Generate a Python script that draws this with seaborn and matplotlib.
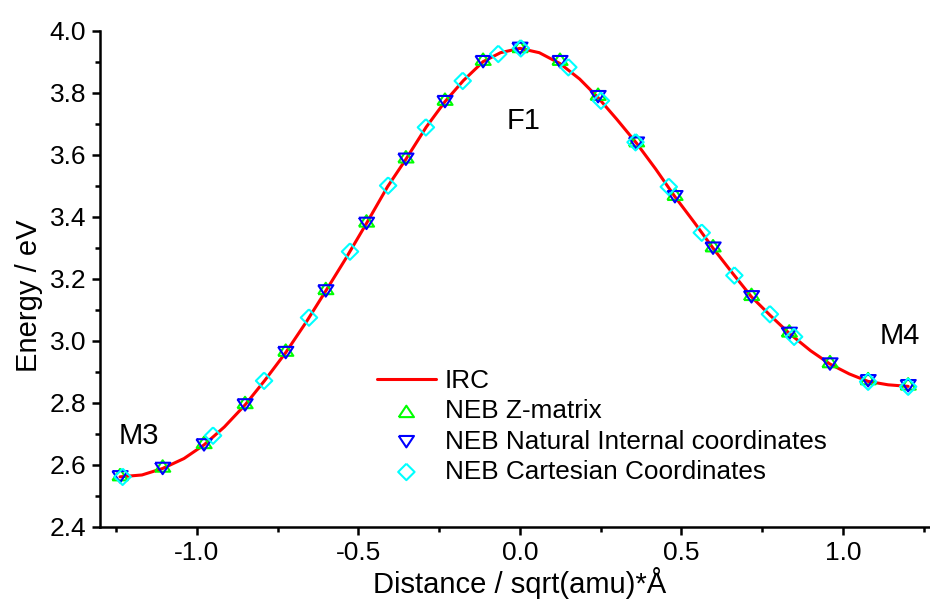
import matplotlib
matplotlib.use("Agg")
import matplotlib.pyplot as plt
import seaborn as sns
import numpy as np

# IRC curve
irc_x = [-1.238, -1.17, -1.106, -1.04, -0.978, -0.915, -0.851, -0.79, -0.725, -0.66,
         -0.601, -0.54, -0.475, -0.41, -0.353, -0.29, -0.232, -0.175, -0.114, -0.06,
         0.0, 0.06, 0.124, 0.185, 0.242, 0.30, 0.361, 0.42, 0.480, 0.54,
         0.598, 0.66, 0.717, 0.775, 0.834, 0.90, 0.960, 1.02, 1.078, 1.14, 1.202]
irc_y = [2.561, 2.567, 2.588, 2.620, 2.664, 2.722, 2.793, 2.872, 2.962, 3.063,
         3.161, 3.264, 3.379, 3.497, 3.586, 3.690, 3.772, 3.840, 3.901, 3.930,
         3.944, 3.930, 3.895, 3.845, 3.785, 3.715, 3.638, 3.555, 3.465, 3.382,
         3.299, 3.216, 3.142, 3.082, 3.024, 2.968, 2.925, 2.893, 2.869, 2.858, 2.853]

# NEB Z-matrix
zmat_x = [-1.238, -1.106, -0.978, -0.851, -0.725, -0.601, -0.475, -0.353, -0.232, -0.114,
          0.0, 0.124, 0.242, 0.361, 0.480, 0.598, 0.717, 0.834, 0.960, 1.078, 1.202]
zmat_y = [2.568, 2.596, 2.672, 2.801, 2.970, 3.169, 3.387, 3.594, 3.780, 3.909,
          3.950, 3.909, 3.796, 3.646, 3.473, 3.307, 3.150, 3.032, 2.933, 2.878, 2.861]

# NEB Natural Internal coordinates
nic_x = [-1.238, -1.106, -0.978, -0.851, -0.725, -0.601, -0.475, -0.353, -0.232, -0.114,
         0.0, 0.124, 0.242, 0.361, 0.480, 0.598, 0.717, 0.834, 0.960, 1.078, 1.202]
nic_y = [2.561, 2.588, 2.664, 2.793, 2.962, 3.161, 3.379, 3.586, 3.772, 3.901,
         3.944, 3.901, 3.788, 3.638, 3.465, 3.299, 3.142, 3.024, 2.925, 2.871, 2.855]

# NEB Cartesian Coordinates
cart_x = [-1.230, -0.950, -0.792, -0.653, -0.526, -0.408, -0.291, -0.177, -0.067, 0.003,
          0.150, 0.251, 0.358, 0.461, 0.563, 0.664, 0.774, 0.849, 1.078, 1.202]
cart_y = [2.561, 2.694, 2.871, 3.075, 3.288, 3.501, 3.689, 3.839, 3.926, 3.944,
          3.883, 3.775, 3.641, 3.497, 3.349, 3.211, 3.086, 3.013, 2.868, 2.852]

labels = ["IRC", "NEB Z-matrix", "NEB Natural Internal coordinates", "NEB Cartesian Coordinates"]
x_ticks = [-1.0, -0.5, 0.0, 0.5, 1.0]
y_ticks = [2.4, 2.6, 2.8, 3.0, 3.2, 3.4, 3.6, 3.8, 4.0]

sns.set_style("ticks")
plt.rcParams["font.family"] = ["Liberation Sans", "DejaVu Sans"]
plt.rcParams.update({"text.color": "black", "axes.labelcolor": "black",
                     "xtick.color": "black", "ytick.color": "black"})

fig = plt.figure(figsize=(9.3, 5.99), dpi=100)
ax = fig.add_axes([100 / 930, 72.3 / 599, 839.8 / 930, 495.7 / 599])

sns.lineplot(x=irc_x, y=irc_y, ax=ax, color="#ff0000", linewidth=2.2,
             label=labels[0], sort=False, zorder=2)

tri_up = [(-1, -0.75), (1, -0.75), (0, 0.75), (-1, -0.75)]
tri_dn = [(-1, 0.75), (1, 0.75), (0, -0.75), (-1, 0.75)]
diamond = [(0, 1), (1, 0), (0, -1), (-1, 0), (0, 1)]

sns.scatterplot(x=zmat_x, y=zmat_y, ax=ax, marker=tri_up, s=120,
                facecolors="none", edgecolors="#00ff00", linewidths=1.5,
                label=labels[1], zorder=3)
sns.scatterplot(x=nic_x, y=nic_y, ax=ax, marker=tri_dn, s=120,
                facecolors="none", edgecolors="#0000ff", linewidths=1.5,
                label=labels[2], zorder=4)
sns.scatterplot(x=cart_x, y=cart_y, ax=ax, marker=diamond, s=140,
                facecolors="none", edgecolors="#00ffff", linewidths=1.5,
                label=labels[3], zorder=5)

ax.set_xlim(-1.30, 1.30)
ax.set_ylim(2.4, 4.0)
ax.set_xticks(x_ticks)
ax.set_xticks(np.arange(-1.25, 1.26, 0.5), minor=True)
ax.set_yticks(y_ticks)
ax.set_yticks(np.arange(2.5, 4.0, 0.2), minor=True)
ax.set_xticklabels([f"{v:.1f}" for v in x_ticks])
ax.set_yticklabels([f"{v:.1f}" for v in y_ticks])

for s in ["top", "right"]:
    ax.spines[s].set_visible(False)
for s in ["left", "bottom"]:
    ax.spines[s].set_linewidth(1.8)
    ax.spines[s].set_color("black")
ax.tick_params(axis="both", which="major", direction="out", length=6, width=1.8,
               labelsize=19, colors="black", pad=4)
ax.tick_params(axis="both", which="minor", direction="out", length=3.6, width=1.8)

ax.set_xlabel("Distance / sqrt(amu)*Å", fontsize=21)
ax.set_ylabel("Energy / eV", fontsize=21)
ax.xaxis.set_label_coords(0.5, -0.082)
ax.yaxis.set_label_coords(-0.068, 0.465)

ax.text(-1.18, 2.693, "M3", fontsize=21, ha="center", va="center")
ax.text(0.012, 3.708, "F1", fontsize=21, ha="center", va="center")
ax.text(1.176, 3.017, "M4", fontsize=21, ha="center", va="center")

leg = ax.legend(loc="upper left", bbox_to_anchor=(377 / 930, 1 - 369 / 599),
                bbox_transform=fig.transFigure, frameon=False, fontsize=18.8,
                handlelength=2.25, handletextpad=0.34, labelspacing=0.24,
                borderpad=0, borderaxespad=0)

fig.savefig("out.png", dpi=100)
